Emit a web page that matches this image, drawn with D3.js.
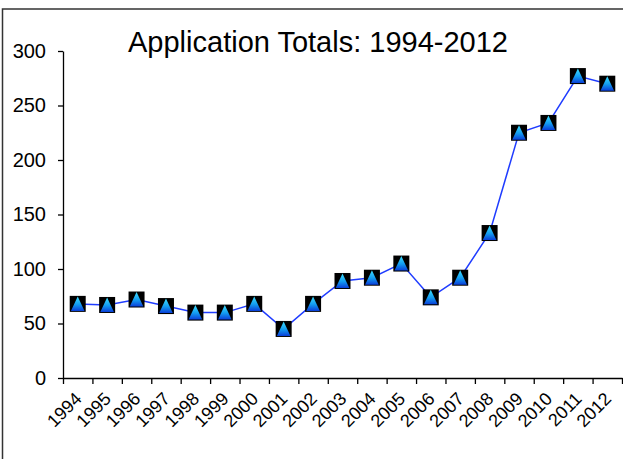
<!DOCTYPE html>
<html>
<head>
<meta charset="utf-8">
<script src="https://cdn.jsdelivr.net/npm/d3@7"></script>
<style>
  body { margin: 0; background: #fff; }
  svg { display: block; font-family: "Liberation Sans", Arial, sans-serif; }
</style>
</head>
<body>
<svg id="chart" width="623" height="459"></svg>
<script>
let width = 623,
  height = 459;

let years = ["1994", "1995", "1996", "1997", "1998", "1999", "2000", "2001", "2002", "2003",
  "2004", "2005", "2006", "2007", "2008", "2009", "2010", "2011", "2012"]
let totals = [68, 67, 72, 66, 60, 60, 68, 45, 68, 89, 92, 105, 74, 92, 133, 225, 234, 277, 270]
let y_ticks = [0, 50, 100, 150, 200, 250, 300]
let title = "Application Totals: 1994-2012"

let svg = d3.select("#chart")

// outer frame, runs off the right and bottom edges
svg.append("rect")
  .attr("x", 2.5).attr("y", 9)
  .attr("width", 700).attr("height", 600)
  .attr("fill", "none")
  .attr("stroke", "#333")
  .attr("stroke-width", 1.5)

let defs = svg.append("defs")
let grad = defs.append("linearGradient")
  .attr("id", "tri")
  .attr("x1", 0).attr("y1", 0).attr("x2", 0).attr("y2", 1)
grad.append("stop").attr("offset", "0%").attr("stop-color", "#3fe0ff")
grad.append("stop").attr("offset", "55%").attr("stop-color", "#139cf0")
grad.append("stop").attr("offset", "100%").attr("stop-color", "#0a3fd8")

let scales = {
  x: d3.scaleLinear().domain([0, years.length]).range([63, 622]),
  y: d3.scaleLinear().domain([0, 300]).range([378, 51])
}

let axis = {
  x: d3.axisBottom(scales.x).tickValues(d3.range(years.length + 1)).tickFormat("")
    .tickSize(6).tickSizeOuter(0),
  y: d3.axisLeft(scales.y).tickValues(y_ticks).tickSize(5).tickPadding(12).tickSizeOuter(0)
}

let gy = svg.append("g").attr("transform", "translate(63,0)").call(axis.y)
gy.selectAll("text").attr("font-size", 20).attr("fill", "#000")
  .attr("font-family", "Liberation Sans, Arial, sans-serif")
gy.selectAll("line, path").attr("stroke", "#000").attr("stroke-width", 1.3)

let gx = svg.append("g").attr("transform", "translate(0,378)").call(axis.x)
gx.selectAll("line, path").attr("stroke", "#000").attr("stroke-width", 1.3)

svg.append("g").selectAll("text")
  .data(years).enter()
  .append("text")
  .attr("transform", (d, i) => `translate(${scales.x(i + 0.5) + 5},400) rotate(-45)`)
  .attr("text-anchor", "end")
  .attr("font-size", 18)
  .text(d => d)

svg.append("text")
  .attr("x", 318).attr("y", 52)
  .attr("text-anchor", "middle")
  .attr("font-size", 29)
  .text(title)

let line_gen = d3.line()
  .x((d, i) => scales.x(i + 0.5))
  .y(d => scales.y(d))

svg.append("path")
  .datum(totals)
  .attr("d", line_gen)
  .attr("fill", "none")
  .attr("stroke", "#1f3cff")
  .attr("stroke-width", 1.5)

let marks = svg.append("g").selectAll("g")
  .data(totals).enter()
  .append("g")
  .attr("transform", (d, i) => `translate(${scales.x(i + 0.5)},${scales.y(d)})`)

marks.append("rect")
  .attr("x", -8).attr("y", -8)
  .attr("width", 16).attr("height", 16)
  .attr("fill", "#000")

marks.append("path")
  .attr("d", "M0,-7.5 L6.8,7 L-6.8,7 Z")
  .attr("fill", "url(#tri)")
</script>
</body>
</html>
